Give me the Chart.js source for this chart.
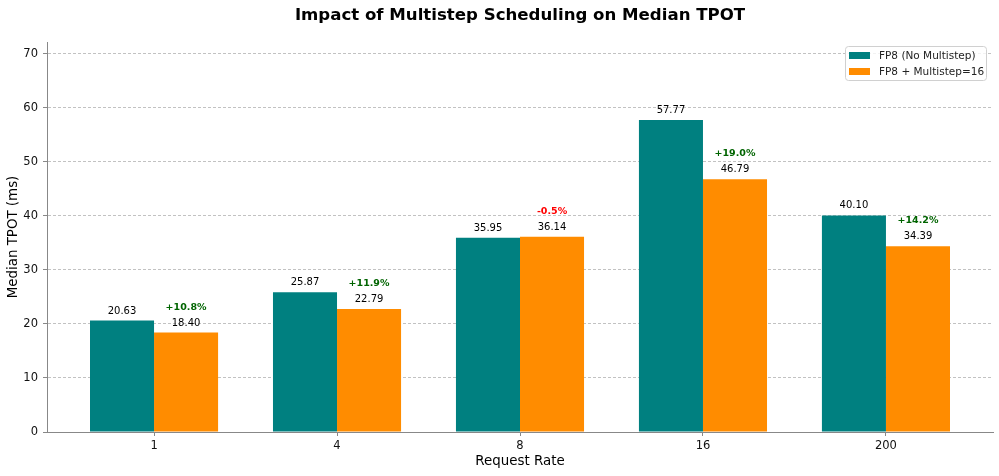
<!DOCTYPE html>
<html>
<head>
<meta charset="utf-8">
<script src="https://cdn.jsdelivr.net/npm/chart.js@4"></script>
<style>
  html, body { margin: 0; padding: 0; background: #fff; }
  #wrap { width: 999px; height: 476px; position: relative; }
</style>
</head>
<body>
<div id="wrap"><canvas id="c" width="999" height="476"></canvas></div>
<script>
// ---- data ----
const categories = ['1', '4', '8', '16', '200'];
const noMultistep = [20.63, 25.87, 35.95, 57.77, 40.10];
const multistep16 = [18.40, 22.79, 36.14, 46.79, 34.39];
const improvementLabels = ['+10.8%', '+11.9%', '-0.5%', '+19.0%', '+14.2%'];
const yTicks = [0, 10, 20, 30, 40, 50, 60, 70];
const seriesNames = ['FP8 (No Multistep)', 'FP8 + Multistep=16'];
const yMax = 72.2;

const FONT = "'DejaVu Sans', sans-serif";
const TEAL = '#008080';
const ORANGE = '#FF8C00';

const labelPlugin = {
  id: 'labels',
  afterDatasetsDraw(chart) {
    const ctx = chart.ctx;
    ctx.save();
    ctx.textAlign = 'center';
    ctx.textBaseline = 'alphabetic';
    chart.data.datasets.forEach((ds, di) => {
      const meta = chart.getDatasetMeta(di);
      meta.data.forEach((bar, i) => {
        ctx.font = '10px ' + FONT;
        ctx.fillStyle = '#000';
        ctx.fillText(ds.data[i].y.toFixed(2), bar.x, bar.y - 7);
        if (di === 1) {
          const t = improvementLabels[i];
          ctx.font = 'bold 9.5px ' + FONT;
          ctx.fillStyle = t.startsWith('-') ? '#FF0000' : '#006400';
          ctx.fillText(t, bar.x, bar.y - 23);
        }
      });
    });
    ctx.restore();
  },
  afterDraw(chart) {
    const ctx = chart.ctx;
    const area = chart.chartArea;
    ctx.save();
    // title
    ctx.font = 'bold 16.6px ' + FONT;
    ctx.fillStyle = '#000';
    ctx.textAlign = 'center';
    ctx.textBaseline = 'middle';
    ctx.fillText('Impact of Multistep Scheduling on Median TPOT', (area.left + area.right) / 2, 16);
    // legend
    const bx = 845.5, by = 46.5, bw = 141, bh = 34;
    ctx.beginPath();
    if (ctx.roundRect) ctx.roundRect(bx, by, bw, bh, 3); else ctx.rect(bx, by, bw, bh);
    ctx.fillStyle = 'rgba(255,255,255,0.8)';
    ctx.fill();
    ctx.strokeStyle = '#d0d0d0';
    ctx.lineWidth = 1;
    ctx.stroke();
    const colors = [TEAL, ORANGE];
    ctx.font = '10.5px ' + FONT;
    ctx.textAlign = 'left';
    ctx.textBaseline = 'middle';
    seriesNames.forEach((name, i) => {
      const y = 52 + i * 16;
      ctx.fillStyle = colors[i];
      ctx.fillRect(849, y, 21, 7);
      ctx.fillStyle = '#222';
      ctx.fillText(name, 879, y + 4);
    });
    ctx.restore();
  }
};

new Chart(document.getElementById('c'), {
  type: 'bar',
  data: {
    datasets: [
      {
        label: seriesNames[0],
        data: noMultistep.map((v, i) => ({ x: i, y: v })),
        backgroundColor: TEAL,
        borderWidth: 0,
        categoryPercentage: 0.7,
        barPercentage: 1.0
      },
      {
        label: seriesNames[1],
        data: multistep16.map((v, i) => ({ x: i, y: v })),
        backgroundColor: ORANGE,
        borderWidth: 0,
        categoryPercentage: 0.7,
        barPercentage: 1.0
      }
    ]
  },
  options: {
    responsive: false,
    animation: false,
    devicePixelRatio: 1,
    layout: { padding: { top: 42, right: 6, left: 0, bottom: 0 } },
    plugins: {
      legend: { display: false },
      title: { display: false },
      tooltip: { enabled: false }
    },
    scales: {
      x: {
        type: 'linear',
        offset: false,
        min: -0.585,
        max: 4.585,
        afterBuildTicks: axis => { axis.ticks = categories.map((_, i) => ({ value: i })); },
        afterFit: s => { s.height = 44; },
        ticks: {
          callback: v => categories[v],
          font: { family: FONT, size: 11.5 },
          color: '#111',
          padding: 3,
          maxRotation: 0,
          autoSkip: false
        },
        grid: { display: true, offset: false, drawOnChartArea: false, drawTicks: true, tickLength: 4, tickColor: '#888', tickWidth: 1 },
        border: { display: true, color: '#888', width: 1 },
        title: {
          display: true,
          text: 'Request Rate',
          font: { family: FONT, size: 13.4 },
          color: '#000',
          padding: { top: 0, bottom: 6.5 }
        }
      },
      y: {
        type: 'linear',
        min: 0,
        max: yMax,
        afterBuildTicks: axis => { axis.ticks = yTicks.map(v => ({ value: v })); },
        afterFit: s => { s.width = 47; },
        ticks: {
          font: { family: FONT, size: 11.5 },
          color: '#111',
          padding: 5
        },
        grid: {
          color: 'rgba(170,170,170,0.9)',
          lineWidth: 0.8,
          offset: false,
          drawTicks: true,
          tickLength: 4,
          tickColor: '#888',
          tickWidth: 1,
          tickBorderDash: []
        },
        border: { display: true, color: '#888', width: 1, dash: [3, 2] },
        title: {
          display: true,
          text: 'Median TPOT (ms)',
          font: { family: FONT, size: 13.4 },
          color: '#000',
          padding: { top: 5.5, bottom: 0 }
        }
      }
    }
  },
  plugins: [labelPlugin]
});
</script>
</body>
</html>
